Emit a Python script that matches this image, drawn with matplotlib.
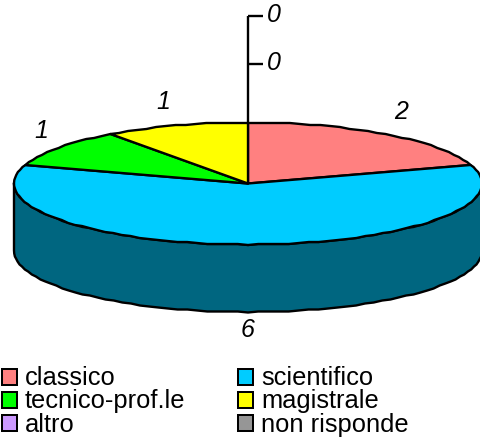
import numpy as np
import matplotlib
matplotlib.use("Agg")
import matplotlib.pyplot as plt
from matplotlib.patches import Polygon, Rectangle

plt.rcParams['font.family'] = ['Liberation Sans', 'DejaVu Sans']

categories = ['classico', 'scientifico', 'tecnico-prof.le', 'magistrale', 'altro', 'non risponde']
values = [2, 6, 1, 1, 0, 0]
top_colors = ['#FF8080', '#00CCFF', '#00FF00', '#FFFF00', '#CC99FF', '#969696']
side_colors = ['#804040', '#006680', '#008000', '#808000', '#664C80', '#4B4B4B']
axis_ticks = [0, 0]

# geometry of the projected pie, in pixels
CX, CY, RX, RY, DEPTH = 248, 184.5, 234, 61, 67.5
TICK_Y = [17, 65]
LABEL_POS = [(401, 112), (248, 330), (41, 131), (163, 102)]
LEG_X = [2, 238]
LEG_Y = [377.5, 401, 424.5]
LEG_BASE = [385, 408, 432]
LW = 1.7

fig = plt.figure(figsize=(4.81, 4.39), dpi=100)
ax = fig.add_axes([0, 0, 1, 1])
ax.set_xlim(0, 481)
ax.set_ylim(439, 0)
ax.axis('off')


def rim(a0, a1, dy=0.0):
    # vertices snapped in y give the slightly stepped outline of the original
    t = np.radians(np.linspace(a0, a1, max(2, int(abs(a1 - a0) / 2.5) + 1)))
    y = np.round(CY - RY * np.cos(t))
    return np.column_stack([CX + RX * np.sin(t), y + dy])


total = sum(values)
angles = np.concatenate([[0], np.cumsum(values) / total * 360])

# side walls (only the part of the rim facing the viewer)
for v, a0, a1, c in zip(values, angles[:-1], angles[1:], side_colors):
    lo, hi = max(a0, 90), min(a1, 270)
    if v and hi > lo:
        pts = np.vstack([rim(lo, hi), rim(lo, hi, DEPTH)[::-1]])
        ax.add_patch(Polygon(pts, closed=True, fc=c, ec='black', lw=LW, joinstyle='round'))

# axis
ax.plot([CX, CX], [TICK_Y[0], CY - RY], color='black', lw=LW, solid_capstyle='butt')
for y, t in zip(TICK_Y, axis_ticks):
    ax.plot([CX, CX + 15], [y, y], color='black', lw=LW, solid_capstyle='butt')
    ax.text(CX + 26, y - 1.5, str(t), style='italic', fontsize=18, ha='center', va='center')

# top faces
for v, a0, a1, c in zip(values, angles[:-1], angles[1:], top_colors):
    if v:
        pts = np.vstack([[CX, CY], rim(a0, a1)])
        ax.add_patch(Polygon(pts, closed=True, fc=c, ec='black', lw=LW, joinstyle='round'))

# value labels
for v, (x, y) in zip([v for v in values if v], LABEL_POS):
    ax.text(x, y, str(v), style='italic', fontsize=18, ha='center', va='center')

# legend
for i, (name, c) in enumerate(zip(categories, top_colors)):
    col, row = i % 2, i // 2
    x, y = LEG_X[col], LEG_Y[row]
    ax.add_patch(Rectangle((x, y - 8), 15, 16, fc=c, ec='black', lw=LW * 0.85))
    ax.text(x + 23, LEG_BASE[row], name, fontsize=18.4, ha='left', va='baseline')

fig.savefig('out.png', dpi=100)
